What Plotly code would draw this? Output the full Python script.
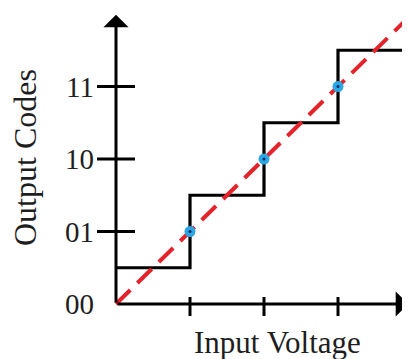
import plotly.graph_objects as go

# ---- data ----
step_x = [0, 1, 2, 3, 4.5]
step_codes = [0.5, 1.5, 2.5, 3.5, 3.5]
ideal_x = [0, 4.5]
ideal_y = [0, 4.5]
sample_x = [1, 2, 3]
sample_y = [1, 2, 3]
code_values = [0, 1, 2, 3]
code_labels = ["00", "01", "10", "11"]
input_ticks = [1, 2, 3]
x_axis_end = 3.95
y_axis_end = 3.99

W, H = 410, 359
OX, OY = 108, 296          # origin in figure pixels (page adds 8px body margin)
UX, UY = 74, 72.5          # pixels per unit
X_RANGE = [(0 - OX) / UX, (W - OX) / UX]
Y_RANGE = [(OY - H) / UY, OY / UY]
FONT = "Liberation Serif, Times New Roman, serif"
TXT = "#1e1e1e"

fig = go.Figure()

fig.add_trace(go.Scatter(x=step_x, y=step_codes, mode="lines", line_shape="hv",
                         line=dict(color="black", width=3.2), hoverinfo="skip"))
fig.add_trace(go.Scatter(x=ideal_x, y=ideal_y, mode="lines",
                         line=dict(color="#e3222a", width=4, dash="20px,10px"), hoverinfo="skip"))
fig.add_trace(go.Scatter(x=sample_x, y=sample_y, mode="markers",
                         marker=dict(color="#2ba6e2", size=11, line=dict(width=0)), hoverinfo="skip"))
fig.add_trace(go.Scatter(x=sample_x, y=sample_y, mode="markers",
                         marker=dict(color="#0b2a6e", size=3, line=dict(width=0)), hoverinfo="skip"))

# axis arrows
fig.add_annotation(x=x_axis_end, y=0, ax=0, ay=0, xref="x", yref="y", axref="x", ayref="y",
                   showarrow=True, arrowhead=1, arrowsize=1.4, arrowwidth=3, arrowcolor="black",
                   standoff=0, startstandoff=0, text="")
fig.add_annotation(x=0, y=y_axis_end, ax=0, ay=0, xref="x", yref="y", axref="x", ayref="y",
                   showarrow=True, arrowhead=1, arrowsize=1.4, arrowwidth=3, arrowcolor="black",
                   standoff=0, startstandoff=0, text="")

# tick marks
for t in input_ticks:
    fig.add_shape(type="line", xref="x", yref="y", x0=t, x1=t, ysizemode="pixel", yanchor=0,
                  y0=-12, y1=7, line=dict(color="black", width=3))
for v in code_values[1:]:
    fig.add_shape(type="line", xref="x", yref="y", y0=v, y1=v, xsizemode="pixel", xanchor=0,
                  x0=-19, x1=19, line=dict(color="black", width=3))

fig.add_annotation(x=269 / W, y=1 - 334 / H, xref="paper", yref="paper", text="Input Voltage",
                   xanchor="center", yanchor="middle",
                   showarrow=False, font=dict(family=FONT, size=31, color=TXT))
fig.add_annotation(x=17 / W, y=1 - 150 / H, xref="paper", yref="paper", text="Output Codes",
                   xanchor="center", yanchor="middle",
                   textangle=-90, showarrow=False, font=dict(family=FONT, size=32, color=TXT))

fig.update_layout(
    width=W, height=H, margin=dict(l=0, r=0, t=0, b=0),
    paper_bgcolor="white", plot_bgcolor="white", showlegend=False,
    xaxis=dict(range=X_RANGE, visible=False, fixedrange=True),
    yaxis=dict(range=Y_RANGE, showgrid=False, zeroline=False, showline=False,
               tickvals=code_values, ticktext=code_labels, ticks="",
               anchor="free", position=OX / W, side="left",
               ticklabelstandoff=22,
               tickfont=dict(family=FONT, size=29, color=TXT), fixedrange=True),
)

fig.write_html("out.html")
